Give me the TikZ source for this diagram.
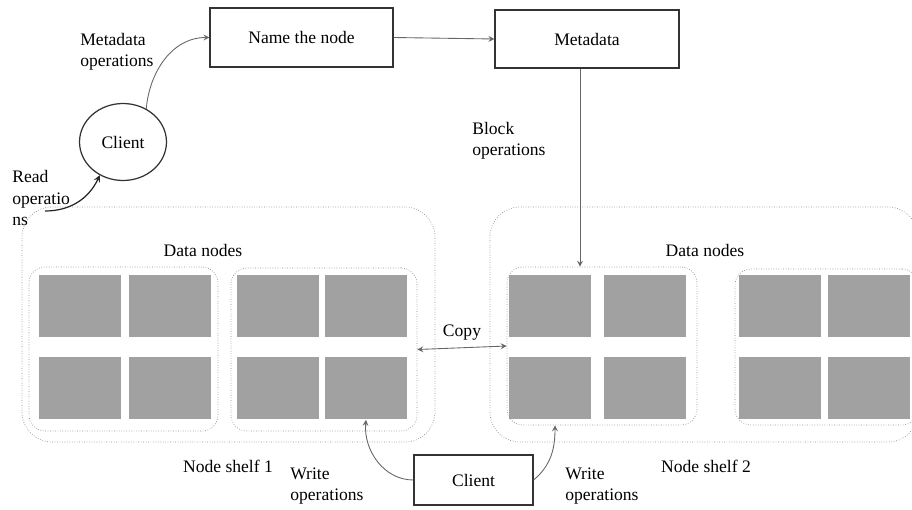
\documentclass[tikz,border=0pt]{standalone}
\usepackage{fontspec}
\setmainfont{Liberation Serif}
\usetikzlibrary{fit,shapes.geometric}

\begin{document}
\begin{tikzpicture}[x=0.02cm,y=-0.02cm,>=stealth,
    box/.style={draw=black!80,line width=0.7pt,rectangle},
    shelf/.style={draw=black!45,densely dotted,rounded corners=0.6cm,inner sep=0pt},
    group/.style={draw=black!45,densely dotted,rounded corners=0.32cm,inner sep=0pt},
    cell/.style={fill=black!37,minimum width=1.64cm,minimum height=1.26cm,inner sep=0pt},
    arr/.style={->,draw=black!60,line width=0.5pt}]

  \useasboundingbox (0,0) rectangle (912,510);

  \begin{scope}[every node/.style={box}]
    \node (name) at (301.5,37.5) [minimum width=3.66cm,minimum height=1.18cm] {Name the node};
    \node (meta) at (587,39) [minimum width=3.68cm,minimum height=1.16cm] {Metadata};
    \node (cl1) at (123,142) [ellipse,minimum width=1.74cm,minimum height=1.54cm] {Client};
    \node (cl2) at (473.5,480) [minimum width=2.38cm,minimum height=1cm] {Client};
  \end{scope}

  \foreach \x/\n in {80/1,170/2,278/3,366/4,550/5,645/6,780/7,869/8}
    \foreach \y/\m in {306/a,388/b}
      \node[cell] (c\n\m) at (\x,\y) {};

  \begin{scope}[every node/.style={group}]
    \node (g1) [fit={(29,267) (218,431)}] {};
    \node (g2) [fit={(231,268) (417,431)}] {};
    \node (g3) [fit={(507,267) (697,425)}] {};
    \node (g4) [fit={(735,269) (918,425)}] {};
  \end{scope}

  \begin{scope}[every node/.style={shelf}]
    \node (s1) [fit={(22,207) (435,442)}] {};
    \node (s2) [fit={(490,207) (918,442)}] {};
  \end{scope}

  \begin{scope}[every node/.style={align=left,inner sep=0pt}]
    \node[anchor=west] (lmeta) at (80,52) {Metadata\\operations};
    \node[anchor=west] (lread) at (12,198) {Read\\operatio\\ns};
    \node[anchor=west] (lblock) at (472,141) {Block\\operations};
    \node (ldata1) at (203,250) {Data nodes};
    \node (ldata2) at (705,250) {Data nodes};
    \node (lshelf1) at (228,466) {Node shelf 1};
    \node (lshelf2) at (706,466) {Node shelf 2};
    \node[anchor=west] (lwrite1) at (290,486) {Write\\operations};
    \node[anchor=west] (lwrite2) at (565,486) {Write\\operations};
  \end{scope}

  \coordinate (rd) at (45,211);

  \draw[arr] (name.east) -- (meta.west);
  \draw[arr] (cl1.55) to[out=85,in=180] (name.west);
  \draw[arr,draw=black!85,line width=0.7pt] (rd) to[out=0,in=-115] (cl1.235);
  \draw[arr] ([xshift=-0.14cm]meta.south) -- ([xshift=-0.14cm]meta.south |- g3.north);
  \draw[arr,<->] (g2.east) -- node[above,inner sep=4pt] {Copy} (g3.west);
  \draw[arr] (cl2.west) to[out=180,in=-95] (c4b.south);
  \draw[arr] (cl2.east) to[out=40,in=-90] ([xshift=-0.94cm]g3.south);

\end{tikzpicture}
\end{document}
